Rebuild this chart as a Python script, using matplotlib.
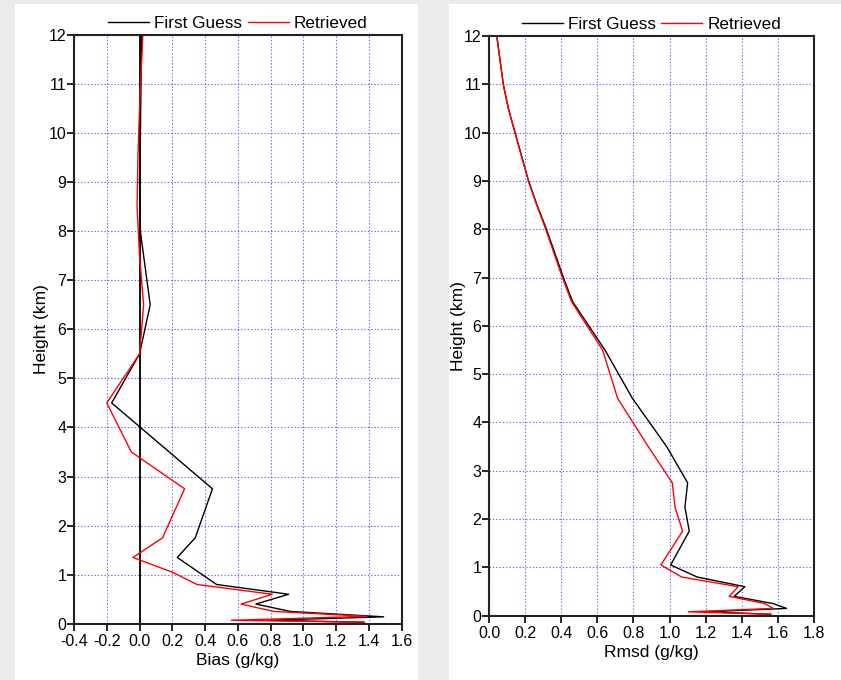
import matplotlib
matplotlib.use("Agg")
from matplotlib import pyplot as plt
from matplotlib.patches import Rectangle
from matplotlib.lines import Line2D

plt.rcParams['font.family'] = ['Liberation Sans', 'DejaVu Sans']

# Bias profiles (g/kg) against height (km)
bias_fg_h = [0.03, 0.07, 0.14, 0.25, 0.4, 0.6, 0.8, 1.35, 1.75, 2.75, 4.5, 5.5, 6.5, 8.0, 9.0, 10.0, 12.0]
bias_fg = [1.37, 0.78, 1.49, 0.92, 0.71, 0.91, 0.47, 0.23, 0.34, 0.445, -0.17, 0.0, 0.065, 0.005, 0.0, 0.005, 0.013]
bias_rt_h = [0.03, 0.07, 0.15, 0.25, 0.4, 0.6, 0.8, 1.05, 1.35, 1.75, 2.75, 3.5, 4.5, 5.5, 6.5, 7.5, 8.5, 9.5, 10.5, 12.0]
bias_rt = [1.37, 0.56, 1.39, 0.82, 0.62, 0.81, 0.35, 0.2, -0.04, 0.14, 0.275, -0.05, -0.2, 0.0, 0.025, 0.0, -0.015, -0.01, 0.0, 0.02]

# Rmsd profiles (g/kg) against height (km)
rmsd_h = [0.03, 0.08, 0.15, 0.25, 0.4, 0.6, 0.8, 1.05, 1.75, 2.25, 2.75, 3.5, 4.5, 5.5, 6.5, 7.0, 8.0, 8.5, 9.0, 10.0, 10.5, 11.0, 12.0]
rmsd_fg = [1.56, 1.2, 1.648, 1.574, 1.358, 1.417, 1.153, 1.006, 1.109, 1.085, 1.10, 0.984, 0.794, 0.642, 0.463, 0.412, 0.318, 0.266, 0.219, 0.144, 0.107, 0.079, 0.043]
rmsd_rt = [1.56, 1.104, 1.574, 1.528, 1.33, 1.38, 1.067, 0.952, 1.072, 1.03, 1.015, 0.882, 0.712, 0.629, 0.457, 0.406, 0.314, 0.264, 0.218, 0.144, 0.107, 0.079, 0.043]

bias_ticks = [-0.4, -0.2, 0.0, 0.2, 0.4, 0.6, 0.8, 1.0, 1.2, 1.4, 1.6]
rmsd_ticks = [0.0, 0.2, 0.4, 0.6, 0.8, 1.0, 1.2, 1.4, 1.6, 1.8]
height_ticks = list(range(0, 13))

grid_color = '#4a4aff'

fig = plt.figure(figsize=(8.41, 6.8), dpi=100, facecolor='#ebecea')
# white panels behind each chart
fig.patches.append(Rectangle((15 / 841, 0), 403 / 841, 676 / 680, transform=fig.transFigure,
                             facecolor='white', edgecolor='none', zorder=-5))
fig.patches.append(Rectangle((449 / 841, 0), 392 / 841, 676 / 680, transform=fig.transFigure,
                             facecolor='white', edgecolor='none', zorder=-5))

ax1 = fig.add_axes([0.088, 0.0828, 0.3896, 0.8657])
ax2 = fig.add_axes([0.5815, 0.0946, 0.3864, 0.8524])


def style_axis(ax, xticks, xlabel, ylabelpad):
    ax.set_facecolor('white')
    ax.set_xlim(xticks[0], xticks[-1])
    ax.set_ylim(0, 12)
    ax.set_xticks(xticks)
    ax.set_xticklabels(['%.1f' % t for t in xticks])
    ax.set_yticks(height_ticks)
    ax.grid(True, color=grid_color, linestyle=(0, (1.2, 1.8)), linewidth=0.8, alpha=0.85)
    ax.set_axisbelow(True)
    ax.tick_params(direction='out', length=5, width=1.2, labelsize=11.5)
    ax.tick_params(axis='y', pad=0.5)
    ax.tick_params(axis='x', pad=2.5)
    for s in ax.spines.values():
        s.set_linewidth(1.5)
        s.set_color('#222222')
    ax.set_xlabel(xlabel, fontsize=12.5, labelpad=3)
    ax.set_ylabel('Height (km)', fontsize=12.5, labelpad=ylabelpad)
    handles = [Line2D([], [], color='black', lw=1), Line2D([], [], color='red', lw=1)]
    ax.legend(handles, ['First Guess', 'Retrieved'], loc='lower center', bbox_to_anchor=(0.5, 1.004),
              ncol=2, frameon=False, fontsize=12.3, handlelength=2.4, columnspacing=0.3,
              handletextpad=0.3, borderaxespad=0.0, borderpad=0.1)


ax1.axvline(0.0, color='black', lw=1.3)
ax1.plot(bias_fg, bias_fg_h, color='black', lw=1)
ax1.plot(bias_rt, bias_rt_h, color='red', lw=1)
style_axis(ax1, bias_ticks, 'Bias (g/kg)', 0)

ax2.plot(rmsd_fg, rmsd_h, color='black', lw=1)
ax2.plot(rmsd_rt, rmsd_h, color='red', lw=1)
style_axis(ax2, rmsd_ticks, 'Rmsd (g/kg)', -2)

fig.savefig('out.png', dpi=100, facecolor=fig.get_facecolor())
